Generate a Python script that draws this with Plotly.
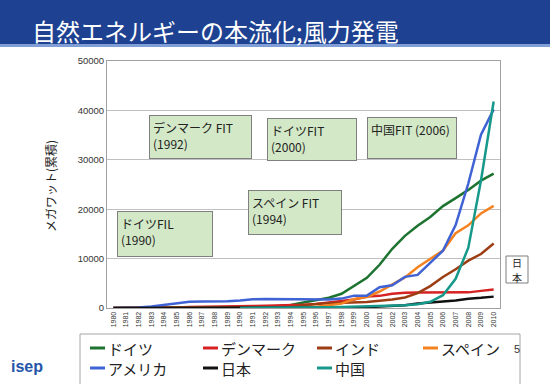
import plotly.graph_objects as go

years = [str(y) for y in range(1980, 2011)]

germany = [0, 0, 0, 0, 0, 0, 0, 2, 10, 20,
           55, 106, 174, 326, 618, 1121, 1549, 2080, 2875, 4445,
           6095, 8754, 11994, 14609, 16629, 18428, 20622, 22247, 23903, 25777, 27214]
denmark = [5, 7, 12, 20, 50, 110, 180, 200, 250, 300,
           343, 413, 458, 487, 539, 637, 835, 1116, 1420, 1738,
           2341, 2456, 2880, 3076, 3118, 3128, 3136, 3129, 3164, 3465, 3752]
india = [0, 0, 0, 0, 0, 0, 0, 0, 0, 0,
         20, 30, 40, 80, 200, 576, 820, 940, 1015, 1077,
         1220, 1456, 1702, 2125, 3000, 4430, 6270, 7850, 9587, 10925, 13065]
spain = [0, 0, 0, 0, 0, 0, 0, 0, 0, 0,
         7, 7, 45, 52, 75, 115, 249, 512, 880, 1812,
         2235, 3337, 4825, 6203, 8263, 10028, 11630, 15145, 16740, 19149, 20676]
usa = [10, 20, 100, 300, 650, 1000, 1250, 1300, 1300, 1350,
       1500, 1750, 1800, 1800, 1750, 1700, 1700, 1700, 1900, 2500,
       2500, 4200, 4600, 6300, 6700, 9100, 11600, 16800, 25200, 35100, 40200]
japan = [0, 0, 0, 0, 0, 0, 0, 0, 0, 0,
         0, 0, 0, 0, 0, 10, 14, 21, 30, 70,
         144, 300, 415, 580, 896, 1040, 1309, 1538, 1880, 2056, 2304]
china = [None, None, None, None, None, None, None, None, None, None,
         4, 10, 15, 20, 30, 44, 79, 170, 224, 268,
         346, 400, 470, 568, 764, 1260, 2599, 5912, 12200, 25805, 41800]

series_names = ["ドイツ", "デンマーク", "インド", "スペイン", "アメリカ", "日本", "中国"]
series_values = [germany, denmark, india, spain, usa, japan, china]
series_colors = ["#1d7330", "#d62222", "#9c3d14", "#f58220", "#3f62d4", "#111111", "#16998a"]

y_ticks = [0, 10000, 20000, 30000, 40000, 50000]

W, H = 550, 384
L, R, T, B = 107, 500, 61, 308
JP = "Noto Sans CJK JP"
LAT = "Liberation Sans, Noto Sans CJK JP"


def px(x):
    return (x - L) / (R - L)


def py(y):
    return (B - y) / (B - T)


fig = go.Figure()
for name, vals, col in zip(series_names, series_values, series_colors):
    fig.add_trace(go.Scatter(x=years, y=vals, name=name, mode="lines",
                             line=dict(color=col, width=2.5), showlegend=False))

shapes = [
    dict(type="rect", xref="paper", yref="paper", x0=px(-2), x1=px(W + 2), y0=py(-2), y1=py(44),
         fillcolor="#1e4291", line=dict(width=0), layer="below"),
    dict(type="rect", xref="paper", yref="paper", x0=px(-2), x1=px(W + 2), y0=py(44), y1=py(47),
         fillcolor="#7f9fd6", line=dict(width=0), layer="below"),
    # legend frame
    dict(type="rect", xref="paper", yref="paper", x0=px(80), x1=px(520), y0=py(334), y1=py(390),
         fillcolor="rgba(0,0,0,0)", line=dict(color="#a6a6a6", width=1)),
    # 日本 callout frame
    dict(type="rect", xref="paper", yref="paper", x0=px(506), x1=px(528), y0=py(256), y1=py(283),
         fillcolor="white", line=dict(color="#7f7f7f", width=1)),
]

annotations = [
    dict(text="自然エネルギーの本流化;風力発電", xref="paper", yref="paper",
         x=px(30), y=py(31), xanchor="left", yanchor="middle", showarrow=False,
         font=dict(family=JP, size=24, color="white")),
    dict(text="メガワット(累積)", xref="paper", yref="paper", x=px(50), y=py(186),
         xanchor="center", yanchor="middle", textangle=-90, showarrow=False,
         font=dict(family=JP, size=12, color="#222")),
    dict(text="5", xref="paper", yref="paper", x=px(522), y=py(357), showarrow=False,
         font=dict(family=LAT, size=11, color="#333")),
    dict(text="<b>isep</b>", xref="paper", yref="paper", x=px(9), y=py(366),
         xanchor="left", yanchor="middle", showarrow=False,
         font=dict(family="Liberation Sans", size=16, color="#2456a8")),
    dict(text="日", xref="paper", yref="paper", x=px(517), y=py(262.5), showarrow=False,
         xanchor="center", yanchor="middle", font=dict(family=JP, size=10, color="#222")),
    dict(text="本", xref="paper", yref="paper", x=px(517), y=py(277), showarrow=False,
         xanchor="center", yanchor="middle", font=dict(family=JP, size=10, color="#222")),
]

# manual legend
leg_line_x = [90, 203, 317, 423, 90, 203, 317]
leg_row_y = [348, 348, 348, 348, 368, 368, 368]
for name, col, lx, ly in zip(series_names, series_colors, leg_line_x, leg_row_y):
    shapes.append(dict(type="line", xref="paper", yref="paper", x0=px(lx), x1=px(lx + 15),
                       y0=py(ly), y1=py(ly), line=dict(color=col, width=3)))
    annotations.append(dict(text=name, xref="paper", yref="paper", x=px(lx + 16), y=py(ly),
                            xanchor="left", yanchor="middle", showarrow=False,
                            font=dict(family=JP, size=15, color="#222")))

box_style = dict(bgcolor="#d2e8c6", bordercolor="#7f7f7f", borderwidth=1, borderpad=3,
                 showarrow=False, xref="paper", yref="paper", xanchor="left", yanchor="top",
                 align="left", valign="top", font=dict(family=JP, size=12, color="#222"))
boxes = [
    ("デンマーク FIT<br>(1992)", 149, 115, 103, 44),
    ("ドイツFIT<br>(2000)", 267, 118, 90, 43),
    ("中国FIT (2006)", 367, 117, 90, 42),
    ("スペイン FIT<br>(1994)", 248, 190, 94, 45),
    ("ドイツFIL<br>(1990)", 117, 211, 96, 46),
]
for txt, bx, by, bw, bh in boxes:
    annotations.append(dict(text=txt, x=px(bx), y=py(by), width=bw - 8, height=bh - 8, **box_style))

arrow_style = dict(text=" ", showarrow=True, arrowhead=2, arrowsize=0.8, arrowwidth=1,
                   arrowcolor="#555", xref="x", yref="y", font=dict(size=1))
# (year, value source, tail pixel offset)
arrows = [
    ("1992", denmark[12], -55, -147),
    ("2000", germany[20], -23, -117),
    ("2006", china[26], -31, -136),
    ("1994", denmark[14], -6, -70),
    ("1990", germany[10], -37, -51),
]
for yr, val, ax, ay in arrows:
    annotations.append(dict(x=yr, y=val, ax=ax, ay=ay, **arrow_style))
annotations.append(dict(x="2010", y=denmark[30], ax=9, ay=-9, text=" ", font=dict(size=1),
                        showarrow=True, arrowhead=0, arrowwidth=1, arrowcolor="#555",
                        xref="x", yref="y"))

fig.update_layout(
    width=W, height=H,
    margin=dict(l=L, r=W - R, t=T, b=H - B, pad=0, autoexpand=False),
    paper_bgcolor="white", plot_bgcolor="white",
    shapes=shapes, annotations=annotations,
    showlegend=False,
    xaxis=dict(type="category", tickangle=-90, showgrid=False, showline=True, linecolor="#a0a0a0",
               mirror=True, ticks="", tickfont=dict(family=LAT, size=7, color="#333"),
               range=[-0.5, 30.5]),
    yaxis=dict(range=[0, 50000], tickvals=y_ticks, ticktext=[str(v) for v in y_ticks],
               showgrid=True, gridcolor="#c0c0c0", gridwidth=1, showline=True,
               linecolor="#a0a0a0", mirror=True, ticks="", zeroline=False,
               tickfont=dict(family=LAT, size=9.5, color="#333")),
)

fig.write_html("out.html", config={"displayModeBar": False},
               post_script="document.body.style.margin='0';document.body.style.padding='0';")
